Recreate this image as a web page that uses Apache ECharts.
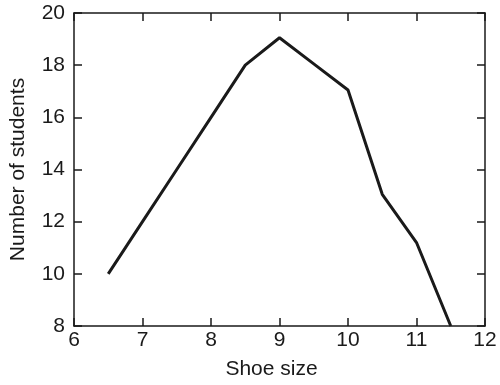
<!DOCTYPE html>
<html><head><meta charset="utf-8">
<script src="https://cdn.jsdelivr.net/npm/echarts@6/dist/echarts.min.js"></script>
<style>html,body{margin:0;padding:0;background:#fff}#c{width:500px;height:385px}</style>
</head><body><div id="c"></div>
<script>
const shoeSizes = [6.5, 7, 7.5, 8, 8.5, 9, 9.5, 10, 10.5, 11, 11.5];
const students  = [10, 12, 14, 16, 18, 19.05, 18.05, 17.05, 13.05, 11.2, 8];
const xTicks = [6, 7, 8, 9, 10, 11, 12];
const yTicks = [8, 10, 12, 14, 16, 18, 20];

const font = 'Liberation Sans, Arial, sans-serif';
const ink = '#1a1a1a';
const chart = echarts.init(document.getElementById('c'), null, {renderer: 'canvas'});
const axisCommon = {
  axisLine: {show: true, onZero: false, lineStyle: {color: ink, width: 1.5}},
  axisTick: {show: true, inside: true, length: 8, lineStyle: {color: ink, width: 1.5}},
  splitLine: {show: false},
  axisLabel: {color: ink, fontFamily: font, fontSize: 21},
  nameTextStyle: {color: ink, fontFamily: font, fontSize: 21}
};
chart.setOption({
  animation: false,
  grid: {left: 73, right: 15, top: 13, bottom: 58},
  xAxis: [
    Object.assign({}, axisCommon, {type: 'value', min: xTicks[0], max: xTicks[xTicks.length-1], interval: 1,
      name: 'Shoe size', nameLocation: 'middle', nameGap: 33,
      nameTextStyle: Object.assign({}, axisCommon.nameTextStyle, {padding: [0, 16, 0, 0]}),
      axisLabel: Object.assign({}, axisCommon.axisLabel, {margin: 4})}),
    Object.assign({}, axisCommon, {type: 'value', position: 'top', min: xTicks[0], max: xTicks[xTicks.length-1], interval: 1,
      axisLabel: {show: false}})
  ],
  yAxis: [
    Object.assign({}, axisCommon, {type: 'value', min: yTicks[0], max: yTicks[yTicks.length-1], interval: 2,
      name: 'Number of students', nameLocation: 'middle', nameGap: 45,
      axisLabel: Object.assign({}, axisCommon.axisLabel, {margin: 9})}),
    Object.assign({}, axisCommon, {type: 'value', position: 'right', min: yTicks[0], max: yTicks[yTicks.length-1], interval: 2,
      axisLabel: {show: false}})
  ],
  series: [{
    type: 'line',
    data: shoeSizes.map((x, i) => [x, students[i]]),
    showSymbol: false,
    lineStyle: {color: ink, width: 3},
    clip: true
  }]
});
</script></body></html>
